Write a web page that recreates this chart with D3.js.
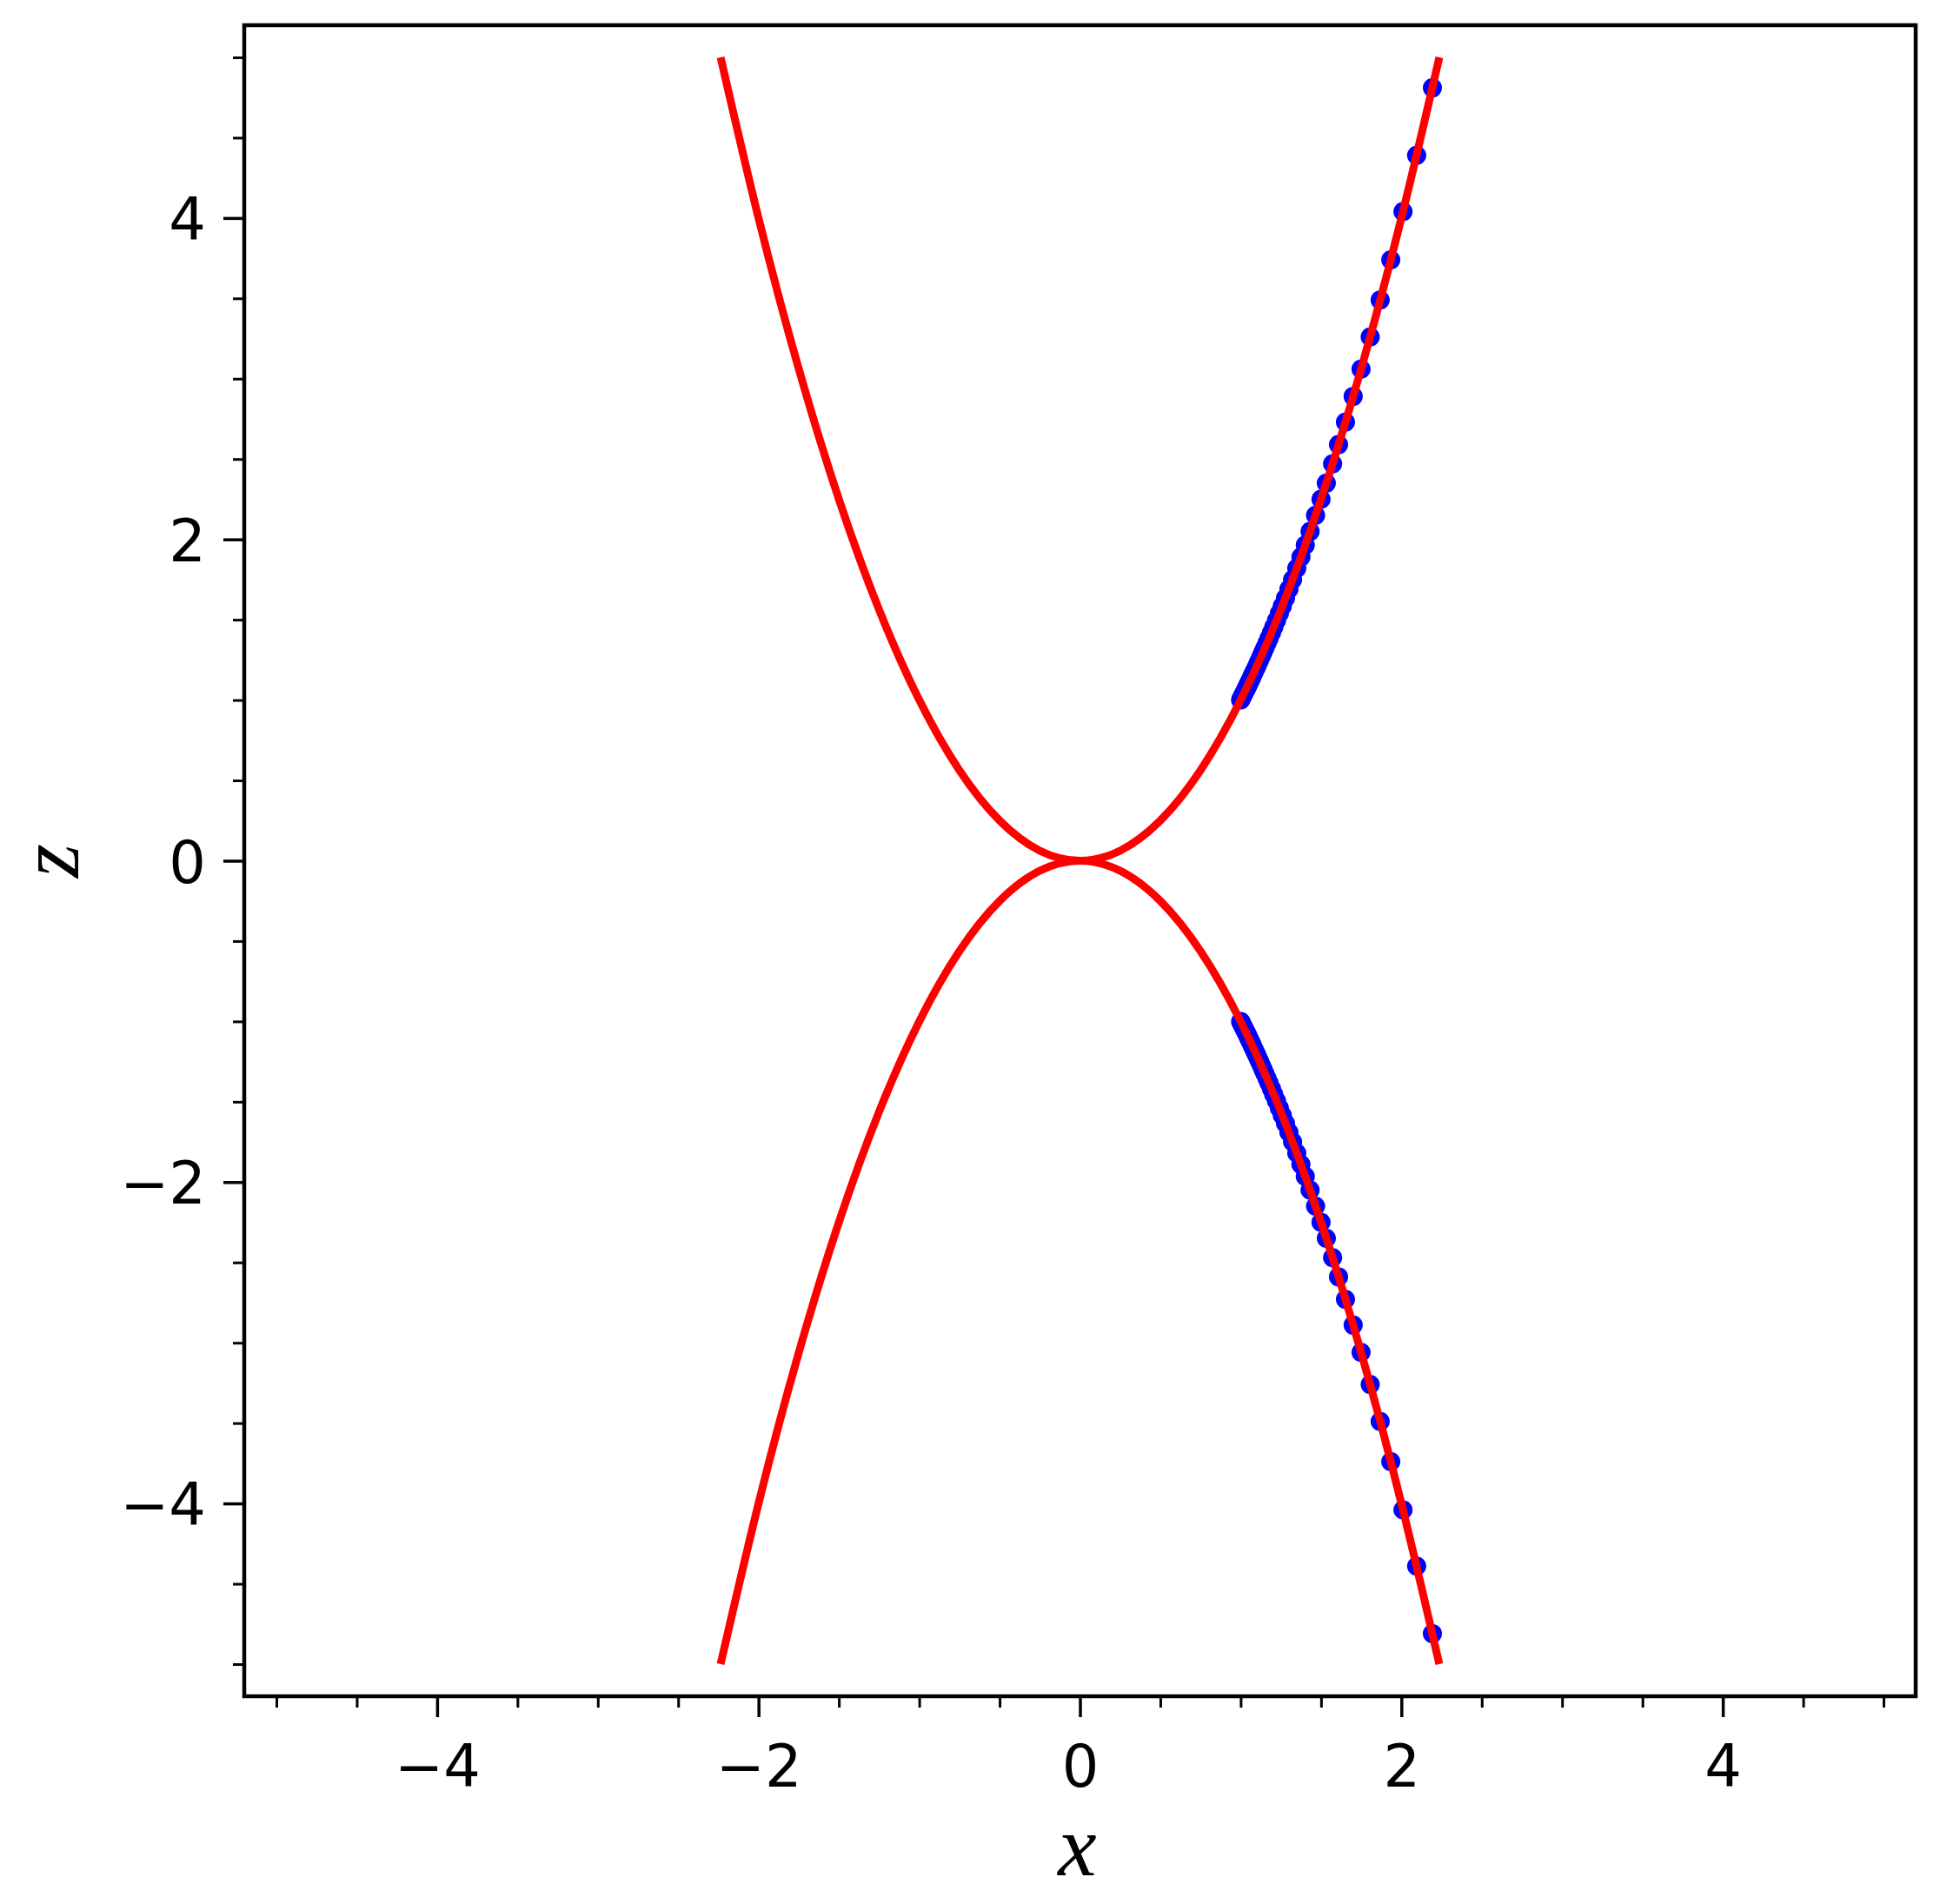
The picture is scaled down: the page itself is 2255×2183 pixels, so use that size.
<!DOCTYPE html>
<html>
<head>
<meta charset="utf-8">
<script src="https://cdn.jsdelivr.net/npm/d3@7"></script>
<style>
  html, body { margin: 0; padding: 0; background: #ffffff; }
  svg { display: block; }
</style>
</head>
<body>
<svg id="chart" width="2255" height="2183"></svg>
<script>
// ---- data ----
const xTicks = [-4, -2, 0, 2, 4];
const yTicks = [-4, -2, 0, 2, 4];
const minorTicks = [-5, -4.5, -3.5, -3, -2.5, -1.5, -1, -0.5, 0.5, 1, 1.5, 2.5, 3, 3.5, 4.5, 5];

// red curve samples (upper branch z = +, lower branch z = -)
const curveX = [-2.236, -2.0, -1.75, -1.5, -1.25, -1.0, -0.75, -0.5, -0.25, 0, 0.25, 0.5, 0.75, 1.0, 1.25, 1.5, 1.75, 2.0, 2.236];
const curveUpperZ = [5.0, 4.0, 3.0625, 2.25, 1.5625, 1.0, 0.5625, 0.25, 0.0625, 0, 0.0625, 0.25, 0.5625, 1.0, 1.5625, 2.25, 3.0625, 4.0, 5.0];
const curveLowerZ = [-5.0, -4.0, -3.0625, -2.25, -1.5625, -1.0, -0.5625, -0.25, -0.0625, 0, -0.0625, -0.25, -0.5625, -1.0, -1.5625, -2.25, -3.0625, -4.0, -5.0];

// blue sample points
const pointX = [2.193, 2.095, 2.010, 1.934, 1.868, 1.806, 1.749, 1.700, 1.652, 1.609, 1.572, 1.533, 1.500, 1.466, 1.432, 1.402, 1.375, 1.349, 1.323, 1.300, 1.279, 1.259, 1.241, 1.223, 1.206, 1.192, 1.177, 1.164, 1.151, 1.140, 1.129, 1.118, 1.109, 1.100, 1.093, 1.086, 1.079, 1.072, 1.068, 1.061, 1.056, 1.051, 1.046, 1.042, 1.037, 1.032, 1.027, 1.022, 1.017, 1.012, 1.007, 1.002, 1.000];
const pointUpperZ = [4.81, 4.39, 4.04, 3.74, 3.49, 3.26, 3.06, 2.89, 2.73, 2.59, 2.47, 2.35, 2.25, 2.15, 2.05, 1.965, 1.89, 1.82, 1.75, 1.69, 1.635, 1.585, 1.54, 1.495, 1.455, 1.42, 1.385, 1.355, 1.325, 1.30, 1.275, 1.25, 1.23, 1.21, 1.195, 1.18, 1.165, 1.15, 1.14, 1.125, 1.115, 1.105, 1.095, 1.085, 1.075, 1.065, 1.055, 1.045, 1.035, 1.025, 1.015, 1.005, 1.0];
const pointLowerZ = [-4.81, -4.39, -4.04, -3.74, -3.49, -3.26, -3.06, -2.89, -2.73, -2.59, -2.47, -2.35, -2.25, -2.15, -2.05, -1.965, -1.89, -1.82, -1.75, -1.69, -1.635, -1.585, -1.54, -1.495, -1.455, -1.42, -1.385, -1.355, -1.325, -1.30, -1.275, -1.25, -1.23, -1.21, -1.195, -1.18, -1.165, -1.15, -1.14, -1.125, -1.115, -1.105, -1.095, -1.085, -1.075, -1.065, -1.055, -1.045, -1.035, -1.025, -1.015, -1.005, -1.0];

const xLabel = "x";
const yLabel = "z";

// ---- layout ----
const L = 281, R = 2204, T = 29, B = 1952;
const svg = d3.select("#chart");
svg.append("rect").attr("width", 2255).attr("height", 2183).attr("fill", "#ffffff");

const x = d3.scaleLinear().domain([-5.2, 5.2]).range([L, R]);
const y = d3.scaleLinear().domain([-5.2, 5.2]).range([B, T]);

const fmt = d => (d < 0 ? "\u2212" + Math.abs(d) : String(d));

// points (below the red line)
const pts = svg.append("g");
[pointUpperZ, pointLowerZ].forEach(zs => {
  pts.selectAll(null).data(pointX.map((px, i) => [px, zs[i]])).enter()
    .append("circle")
    .attr("cx", d => x(d[0]))
    .attr("cy", d => y(d[1]))
    .attr("r", 11)
    .attr("fill", "#0000ff");
});

// red curves
const line = d3.line().x(d => x(d[0])).y(d => y(d[1])).curve(d3.curveNatural);
[curveUpperZ, curveLowerZ].forEach(zs => {
  svg.append("path")
    .attr("d", line(curveX.map((cx, i) => [cx, zs[i]])))
    .attr("fill", "none")
    .attr("stroke", "#ff0000")
    .attr("stroke-width", 9);
});

// axes
const fontTick = "'DejaVu Sans', sans-serif";
const xAxis = d3.axisBottom(x).tickValues(xTicks).tickFormat(fmt).tickSize(24).tickPadding(0);
const xMinor = d3.axisBottom(x).tickValues(minorTicks).tickFormat("").tickSize(13);
const yAxis = d3.axisLeft(y).tickValues(yTicks).tickFormat(fmt).tickSize(24).tickPadding(0);
const yMinor = d3.axisLeft(y).tickValues(minorTicks).tickFormat("").tickSize(13);

function style(g, w) {
  g.select(".domain").remove();
  g.selectAll(".tick line").attr("stroke", "#000").attr("stroke-width", w);
}

const gxm = svg.append("g").attr("transform", `translate(0,${B})`).call(xMinor);
style(gxm, 3);
const gym = svg.append("g").attr("transform", `translate(${L},0)`).call(yMinor);
style(gym, 3);

const gx = svg.append("g").attr("transform", `translate(0,${B})`).call(xAxis);
style(gx, 3.5);
gx.selectAll(".tick text")
  .attr("y", 104).attr("dy", null)
  .attr("font-family", fontTick).attr("font-size", 67).attr("fill", "#000");

const gy = svg.append("g").attr("transform", `translate(${L},0)`).call(yAxis);
style(gy, 3.5);
gy.selectAll(".tick text")
  .attr("x", -44).attr("dy", null).attr("y", 24.5)
  .attr("font-family", fontTick).attr("font-size", 67).attr("fill", "#000");

// frame
svg.append("rect")
  .attr("x", L).attr("y", T).attr("width", R - L).attr("height", B - T)
  .attr("fill", "none").attr("stroke", "#000").attr("stroke-width", 4.5);

// axis labels
svg.append("text")
  .attr("x", (L + R) / 2 - 3).attr("y", 2158)
  .attr("text-anchor", "middle")
  .attr("font-family", "'Liberation Serif', serif").attr("font-style", "italic")
  .attr("font-size", 100).attr("fill", "#000")
  .text(xLabel);

svg.append("text")
  .attr("transform", `translate(90,${y(0)}) rotate(-90)`)
  .attr("text-anchor", "middle")
  .attr("font-family", "'Liberation Serif', serif").attr("font-style", "italic")
  .attr("font-size", 100).attr("fill", "#000")
  .text(yLabel);
</script>
</body>
</html>
